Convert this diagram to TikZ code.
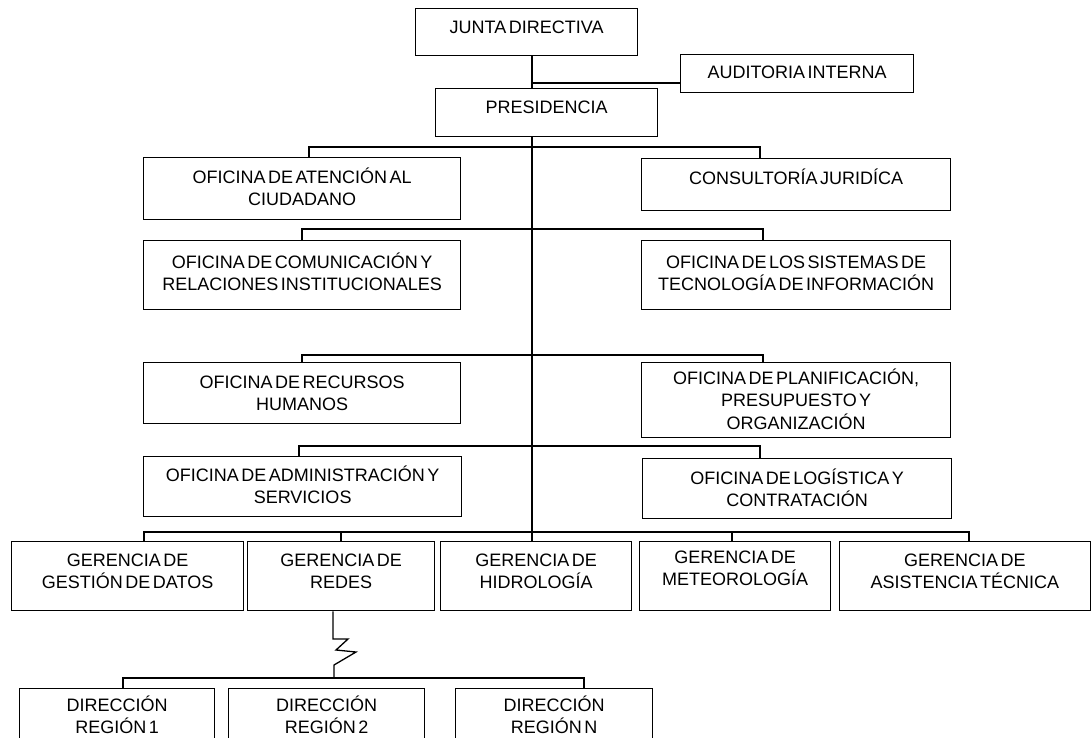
\documentclass[tikz,border=0pt]{standalone}
\usepackage{fontspec}
\setmainfont{Liberation Sans}[WordSpace=0.5]
\tikzset{
  ob/.style={draw, line width=1.3pt, rectangle, inner sep=0pt, anchor=north west},
  tx/.style={anchor=north, inner sep=0pt, align=center, font=\fontsize{18}{22.5}\selectfont},
  ln/.style={line width=1.3pt},
}
\newcommand\obox[7]{%
  \node[ob, minimum width={(#4-#2)*1pt}, minimum height={(#5-#3)*1pt}] (#1) at (#2,#3) {};
  \node[tx] (#1t) at ([yshift={-(#6-9.5)*1pt}]#1.north) {\strut #7};
}
\begin{document}
\begin{tikzpicture}[x=1pt,y=-1pt]
\useasboundingbox (0,0) rectangle (1091,737);
\clip (0,0) rectangle (1091,737);
\fill[white] (0,0) rectangle (1091,737);

\obox{junta}{415}{8}{637}{55}{19}{JUNTA DIRECTIVA}
\obox{aud}{680}{54}{913}{92}{18}{AUDITORIA INTERNA}
\obox{pres}{435}{88}{657}{136}{19}{PRESIDENCIA}
\obox{atn}{143}{157}{460}{219}{20}{OFICINA DE ATENCIÓN AL\\CIUDADANO}
\obox{con}{641}{158}{950}{210}{20}{CONSULTORÍA JURIDÍCA}
\obox{com}{143}{240}{460}{309}{22}{OFICINA DE COMUNICACIÓN Y\\RELACIONES INSTITUCIONALES}
\obox{sis}{641}{240}{950}{309}{22}{OFICINA DE LOS SISTEMAS DE\\TECNOLOGÍA DE INFORMACIÓN}
\obox{rrhh}{143}{362}{460}{423}{20}{OFICINA DE RECURSOS\\HUMANOS}
\obox{pla}{641}{362}{950}{437}{16}{OFICINA DE PLANIFICACIÓN,\\PRESUPUESTO Y\\ORGANIZACIÓN}
\obox{adm}{143}{456}{461}{516}{19}{OFICINA DE ADMINISTRACIÓN Y\\SERVICIOS}
\obox{log}{642}{458}{951}{518}{20}{OFICINA DE LOGÍSTICA Y\\CONTRATACIÓN}
\obox{gd}{11}{541}{243}{610}{19}{GERENCIA DE\\GESTIÓN DE DATOS}
\obox{red}{247}{541}{434}{610}{19}{GERENCIA DE\\REDES}
\obox{hid}{440}{541}{631}{610}{19}{GERENCIA DE\\HIDROLOGÍA}
\obox{met}{639}{541}{830}{610}{16}{GERENCIA DE\\METEOROLOGÍA}
\obox{asi}{839}{541}{1089.5}{610}{19}{GERENCIA DE\\ASISTENCIA TÉCNICA}
\obox{ra}{19}{688}{214}{760}{17}{DIRECCIÓN\\REGIÓN 1}
\obox{rb}{228}{688}{424}{760}{17}{DIRECCIÓN\\REGIÓN 2}
\obox{rn}{455}{688}{652}{760}{17}{DIRECCIÓN\\REGIÓN N}

% trunk
\coordinate (tk) at (532,0);
\coordinate (ja) at (532,83);
\draw[ln] (junta.south -| tk) -- (pres.north -| tk);
\draw[ln] (ja) -- (ja -| aud.west);
\draw[ln] (pres.south -| tk) -- (hid.north -| tk);

% bus 1
\coordinate (b1l) at (309,147); \coordinate (b1r) at (760,147);
\draw[ln] (atn.north -| b1l) -- (b1l) -- (b1r) -- (con.north -| b1r);
% bus 2
\coordinate (b2l) at (302,229); \coordinate (b2r) at (763,229);
\draw[ln] (com.north -| b2l) -- (b2l) -- (b2r) -- (sis.north -| b2r);
% bus 3
\coordinate (b3l) at (302,355); \coordinate (b3r) at (763,355);
\draw[ln] (rrhh.north -| b3l) -- (b3l) -- (b3r) -- (pla.north -| b3r);
% bus 4
\coordinate (b4l) at (299,446); \coordinate (b4r) at (760,446);
\draw[ln] (adm.north -| b4l) -- (b4l) -- (b4r) -- (log.north -| b4r);
% bus 5
\coordinate (b5a) at (144,532); \coordinate (b5b) at (341,532);
\coordinate (b5c) at (732,532); \coordinate (b5d) at (969,532);
\draw[ln] (gd.north -| b5a) -- (b5a) -- (b5d) -- (asi.north -| b5d);
\draw[ln] (b5b) -- (red.north -| b5b);
\draw[ln] (b5c) -- (met.north -| b5c);

% redes to regions with break symbol
\coordinate (z0) at (333,639);
\coordinate (z1) at (348,639);
\coordinate (z2) at (336,650);
\coordinate (z3) at (356,652);
\coordinate (z4) at (334,665);
\coordinate (b6m) at (334,678);
\coordinate (b6l) at (123,678); \coordinate (b6r) at (584,678);
\draw[ln, line join=miter] (red.south -| z0) -- (z0) -- (z1) -- (z2) -- (z3) -- (z4) -- (b6m);
\draw[ln] (ra.north -| b6l) -- (b6l) -- (b6r) -- (rn.north -| b6r);
\end{tikzpicture}
\end{document}
